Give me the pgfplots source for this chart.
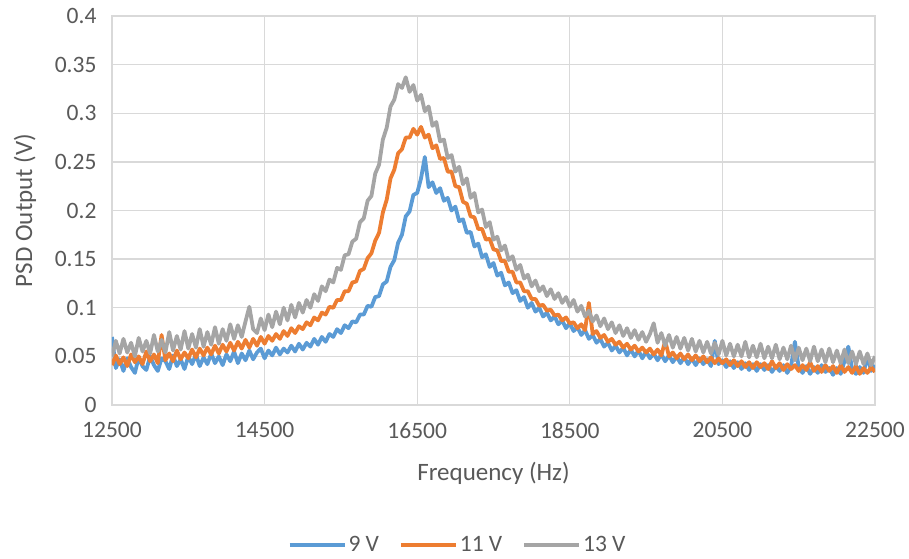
\documentclass[border=0pt]{standalone}
\usepackage{pgfplots}
\pgfplotsset{compat=1.18}
\usepackage{fontspec}
\setmainfont{Carlito}
\definecolor{c9}{HTML}{5B9BD5}
\definecolor{c11}{HTML}{ED7D31}
\definecolor{c13}{HTML}{A5A5A5}
\definecolor{txt}{HTML}{595959}
\definecolor{grd}{HTML}{D9D9D9}
\begin{document}
\begin{tikzpicture}
\begin{axis}[name=ax,
  scale only axis, width=763bp, height=389bp,
  xmin=12500, xmax=22500, ymin=0, ymax=0.4,
  xtick={12500,14500,16500,18500,20500,22500},
  ytick={0,0.05,0.1,0.15,0.2,0.25,0.3,0.35,0.4},
  grid=major, major grid style={draw=grd, line width=1.3bp},
  axis line style={draw=grd, line width=1.3bp},
  major tick length=0pt,
  scaled x ticks=false, scaled y ticks=false,
  /pgf/number format/assume math mode=true,
  xticklabel style={/pgf/number format/1000 sep={}, font=\fontsize{23.5bp}{28bp}\selectfont, text=txt, yshift=-14bp},
  yticklabel style={/pgf/number format/fixed, /pgf/number format/precision=2, font=\fontsize{23.5bp}{28bp}\selectfont, text=txt, xshift=-12bp},
  xlabel={Frequency (Hz)}, ylabel={PSD Output (V)},
  every axis x label/.style={at={(rel axis cs:0.5,-0.175)}, anchor=center, font=\fontsize{25bp}{30bp}\selectfont, text=txt},
  every axis y label/.style={at={(rel axis cs:-0.114,0.5)}, anchor=center, rotate=90, font=\fontsize{25bp}{30bp}\selectfont, text=txt},
  legend style={at={(rel axis cs:0.453,-0.36)}, anchor=center, draw=none, fill=none, legend columns=3,
    font=\fontsize{23.5bp}{28bp}\selectfont, text=txt,
    /tikz/every even column/.append style={column sep=18bp}},
  legend image code/.code={\draw[#1] (0bp,0bp) -- (55bp,0bp);},
]
\addplot[c9, line width=3.8bp, line join=round] table {
12500 0.070
12550 0.038
12600 0.047
12650 0.035
12700 0.048
12750 0.039
12800 0.033
12850 0.049
12900 0.040
12950 0.036
13000 0.050
13050 0.041
13100 0.035
13150 0.048
13200 0.045
13250 0.037
13300 0.051
13350 0.040
13400 0.047
13450 0.037
13500 0.050
13550 0.042
13600 0.052
13650 0.040
13700 0.049
13750 0.042
13800 0.053
13850 0.043
13900 0.050
13950 0.041
14000 0.052
14050 0.045
14100 0.055
14150 0.043
14200 0.053
14250 0.046
14300 0.056
14350 0.047
14400 0.054
14450 0.058
14500 0.048
14550 0.056
14600 0.051
14650 0.059
14700 0.052
14750 0.058
14800 0.054
14850 0.061
14900 0.055
14950 0.063
15000 0.057
15050 0.064
15100 0.060
15150 0.068
15200 0.062
15250 0.070
15300 0.065
15350 0.073
15400 0.070
15450 0.078
15500 0.074
15550 0.082
15600 0.079
15650 0.086
15700 0.085
15750 0.093
15800 0.093
15850 0.102
15900 0.101
15950 0.111
16000 0.112
16050 0.124
16100 0.127
16150 0.142
16200 0.149
16250 0.167
16300 0.175
16350 0.194
16400 0.199
16450 0.216
16500 0.218
16550 0.233
16600 0.255
16650 0.224
16700 0.229
16750 0.218
16800 0.223
16850 0.210
16900 0.213
16950 0.200
17000 0.204
17050 0.189
17100 0.191
17150 0.177
17200 0.178
17250 0.163
17300 0.166
17350 0.152
17400 0.155
17450 0.142
17500 0.146
17550 0.133
17600 0.136
17650 0.123
17700 0.126
17750 0.115
17800 0.118
17850 0.107
17900 0.111
17950 0.100
18000 0.105
18050 0.096
18100 0.100
18150 0.091
18200 0.095
18250 0.087
18300 0.091
18350 0.083
18400 0.087
18450 0.079
18500 0.084
18550 0.076
18600 0.080
18650 0.072
18700 0.077
18750 0.068
18800 0.072
18850 0.064
18900 0.068
18950 0.060
19000 0.064
19050 0.056
19100 0.061
19150 0.054
19200 0.059
19250 0.051
19300 0.057
19350 0.050
19400 0.056
19450 0.048
19500 0.055
19550 0.048
19600 0.053
19650 0.046
19700 0.052
19750 0.045
19800 0.051
19850 0.044
19900 0.050
19950 0.043
20000 0.049
20050 0.042
20100 0.048
20150 0.041
20200 0.048
20250 0.042
20300 0.047
20350 0.040
20400 0.066
20450 0.042
20500 0.046
20550 0.039
20600 0.045
20650 0.038
20700 0.044
20750 0.037
20800 0.043
20850 0.036
20900 0.042
20950 0.035
21000 0.042
21050 0.036
21100 0.041
21150 0.034
21200 0.040
21250 0.035
21300 0.041
21350 0.033
21400 0.040
21450 0.065
21500 0.039
21550 0.033
21600 0.040
21650 0.032
21700 0.039
21750 0.033
21800 0.041
21850 0.034
21900 0.038
21950 0.031
22000 0.038
22050 0.032
22100 0.045
22150 0.060
22200 0.037
22250 0.032
22300 0.039
22350 0.033
22400 0.050
22450 0.035
22500 0.041
};
\addlegendentry{9 V}
\addplot[c11, line width=3.8bp, line join=round] table {
12500 0.041
12550 0.051
12600 0.042
12650 0.049
12700 0.040
12750 0.052
12800 0.044
12850 0.050
12900 0.042
12950 0.055
13000 0.045
13050 0.052
13100 0.043
13150 0.072
13200 0.046
13250 0.053
13300 0.045
13350 0.056
13400 0.047
13450 0.054
13500 0.048
13550 0.057
13600 0.049
13650 0.058
13700 0.051
13750 0.059
13800 0.052
13850 0.061
13900 0.053
13950 0.062
14000 0.055
14050 0.064
14100 0.056
14150 0.065
14200 0.058
14250 0.067
14300 0.059
14350 0.068
14400 0.061
14450 0.070
14500 0.063
14550 0.071
14600 0.066
14650 0.073
14700 0.068
14750 0.076
14800 0.071
14850 0.079
14900 0.074
14950 0.081
15000 0.078
15050 0.085
15100 0.082
15150 0.090
15200 0.087
15250 0.095
15300 0.093
15350 0.101
15400 0.100
15450 0.108
15500 0.108
15550 0.117
15600 0.117
15650 0.126
15700 0.127
15750 0.138
15800 0.140
15850 0.151
15900 0.156
15950 0.169
16000 0.177
16050 0.198
16100 0.211
16150 0.233
16200 0.242
16250 0.259
16300 0.263
16350 0.275
16400 0.275
16450 0.284
16500 0.278
16550 0.286
16600 0.275
16650 0.278
16700 0.264
16750 0.267
16800 0.253
16850 0.254
16900 0.240
16950 0.240
17000 0.225
17050 0.224
17100 0.209
17150 0.207
17200 0.194
17250 0.193
17300 0.181
17350 0.181
17400 0.170
17450 0.171
17500 0.160
17550 0.159
17600 0.148
17650 0.148
17700 0.137
17750 0.137
17800 0.126
17850 0.126
17900 0.117
17950 0.117
18000 0.109
18050 0.109
18100 0.102
18150 0.103
18200 0.097
18250 0.098
18300 0.092
18350 0.093
18400 0.087
18450 0.090
18500 0.084
18550 0.085
18600 0.079
18650 0.083
18700 0.077
18750 0.105
18800 0.073
18850 0.076
18900 0.069
18950 0.072
19000 0.065
19050 0.068
19100 0.062
19150 0.065
19200 0.059
19250 0.063
19300 0.057
19350 0.061
19400 0.055
19450 0.059
19500 0.054
19550 0.058
19600 0.052
19650 0.057
19700 0.051
19750 0.066
19800 0.050
19850 0.054
19900 0.048
19950 0.053
20000 0.047
20050 0.052
20100 0.046
20150 0.051
20200 0.045
20250 0.050
20300 0.044
20350 0.049
20400 0.043
20450 0.048
20500 0.043
20550 0.047
20600 0.041
20650 0.046
20700 0.040
20750 0.045
20800 0.039
20850 0.044
20900 0.038
20950 0.044
21000 0.039
21050 0.043
21100 0.037
21150 0.045
21200 0.038
21250 0.043
21300 0.036
21350 0.042
21400 0.037
21450 0.041
21500 0.035
21550 0.041
21600 0.036
21650 0.044
21700 0.035
21750 0.040
21800 0.034
21850 0.041
21900 0.035
21950 0.040
22000 0.033
22050 0.041
22100 0.034
22150 0.039
22200 0.033
22250 0.040
22300 0.032
22350 0.038
22400 0.033
22450 0.039
22500 0.034
};
\addlegendentry{11 V}
\addplot[c13, line width=3.8bp, line join=round] table {
12500 0.050
12550 0.066
12600 0.053
12650 0.068
12700 0.054
12750 0.064
12800 0.050
12850 0.069
12900 0.055
12950 0.066
13000 0.053
13050 0.072
13100 0.055
13150 0.067
13200 0.054
13250 0.075
13300 0.056
13350 0.071
13400 0.057
13450 0.076
13500 0.058
13550 0.073
13600 0.059
13650 0.078
13700 0.060
13750 0.075
13800 0.062
13850 0.080
13900 0.063
13950 0.078
14000 0.066
14050 0.083
14100 0.068
14150 0.082
14200 0.070
14250 0.086
14300 0.101
14350 0.078
14400 0.074
14450 0.089
14500 0.077
14550 0.093
14600 0.080
14650 0.096
14700 0.083
14750 0.100
14800 0.087
14850 0.103
14900 0.090
14950 0.105
15000 0.095
15050 0.108
15100 0.100
15150 0.114
15200 0.107
15250 0.122
15300 0.117
15350 0.129
15400 0.126
15450 0.141
15500 0.139
15550 0.154
15600 0.155
15650 0.168
15700 0.171
15750 0.188
15800 0.192
15850 0.210
15900 0.215
15950 0.238
16000 0.247
16050 0.273
16100 0.285
16150 0.307
16200 0.314
16250 0.330
16300 0.326
16350 0.337
16400 0.322
16450 0.329
16500 0.313
16550 0.319
16600 0.302
16650 0.307
16700 0.287
16750 0.291
16800 0.271
16850 0.273
16900 0.254
16950 0.257
17000 0.240
17050 0.245
17100 0.227
17150 0.233
17200 0.213
17250 0.218
17300 0.198
17350 0.201
17400 0.183
17450 0.188
17500 0.170
17550 0.173
17600 0.159
17650 0.164
17700 0.149
17750 0.153
17800 0.139
17850 0.144
17900 0.130
17950 0.134
18000 0.122
18050 0.128
18100 0.117
18150 0.122
18200 0.112
18250 0.119
18300 0.109
18350 0.115
18400 0.105
18450 0.111
18500 0.101
18550 0.108
18600 0.096
18650 0.102
18700 0.091
18750 0.097
18800 0.086
18850 0.092
18900 0.081
18950 0.089
19000 0.078
19050 0.085
19100 0.074
19150 0.082
19200 0.071
19250 0.079
19300 0.069
19350 0.077
19400 0.067
19450 0.075
19500 0.065
19550 0.073
19600 0.084
19650 0.064
19700 0.074
19750 0.061
19800 0.072
19850 0.059
19900 0.070
19950 0.058
20000 0.069
20050 0.056
20100 0.068
20150 0.055
20200 0.066
20250 0.054
20300 0.065
20350 0.053
20400 0.064
20450 0.052
20500 0.066
20550 0.051
20600 0.063
20650 0.050
20700 0.062
20750 0.050
20800 0.065
20850 0.049
20900 0.061
20950 0.049
21000 0.063
21050 0.048
21100 0.060
21150 0.048
21200 0.062
21250 0.047
21300 0.059
21350 0.047
21400 0.061
21450 0.046
21500 0.059
21550 0.046
21600 0.058
21650 0.045
21700 0.060
21750 0.045
21800 0.057
21850 0.044
21900 0.058
21950 0.044
22000 0.056
22050 0.043
22100 0.057
22150 0.043
22200 0.055
22250 0.042
22300 0.055
22350 0.042
22400 0.053
22450 0.041
22500 0.050
};
\addlegendentry{13 V}
\end{axis}
\pgfresetboundingbox
\path (ax.south west) ++(-112bp,-154bp) rectangle ++(909bp,559bp);
\end{tikzpicture}
\end{document}
